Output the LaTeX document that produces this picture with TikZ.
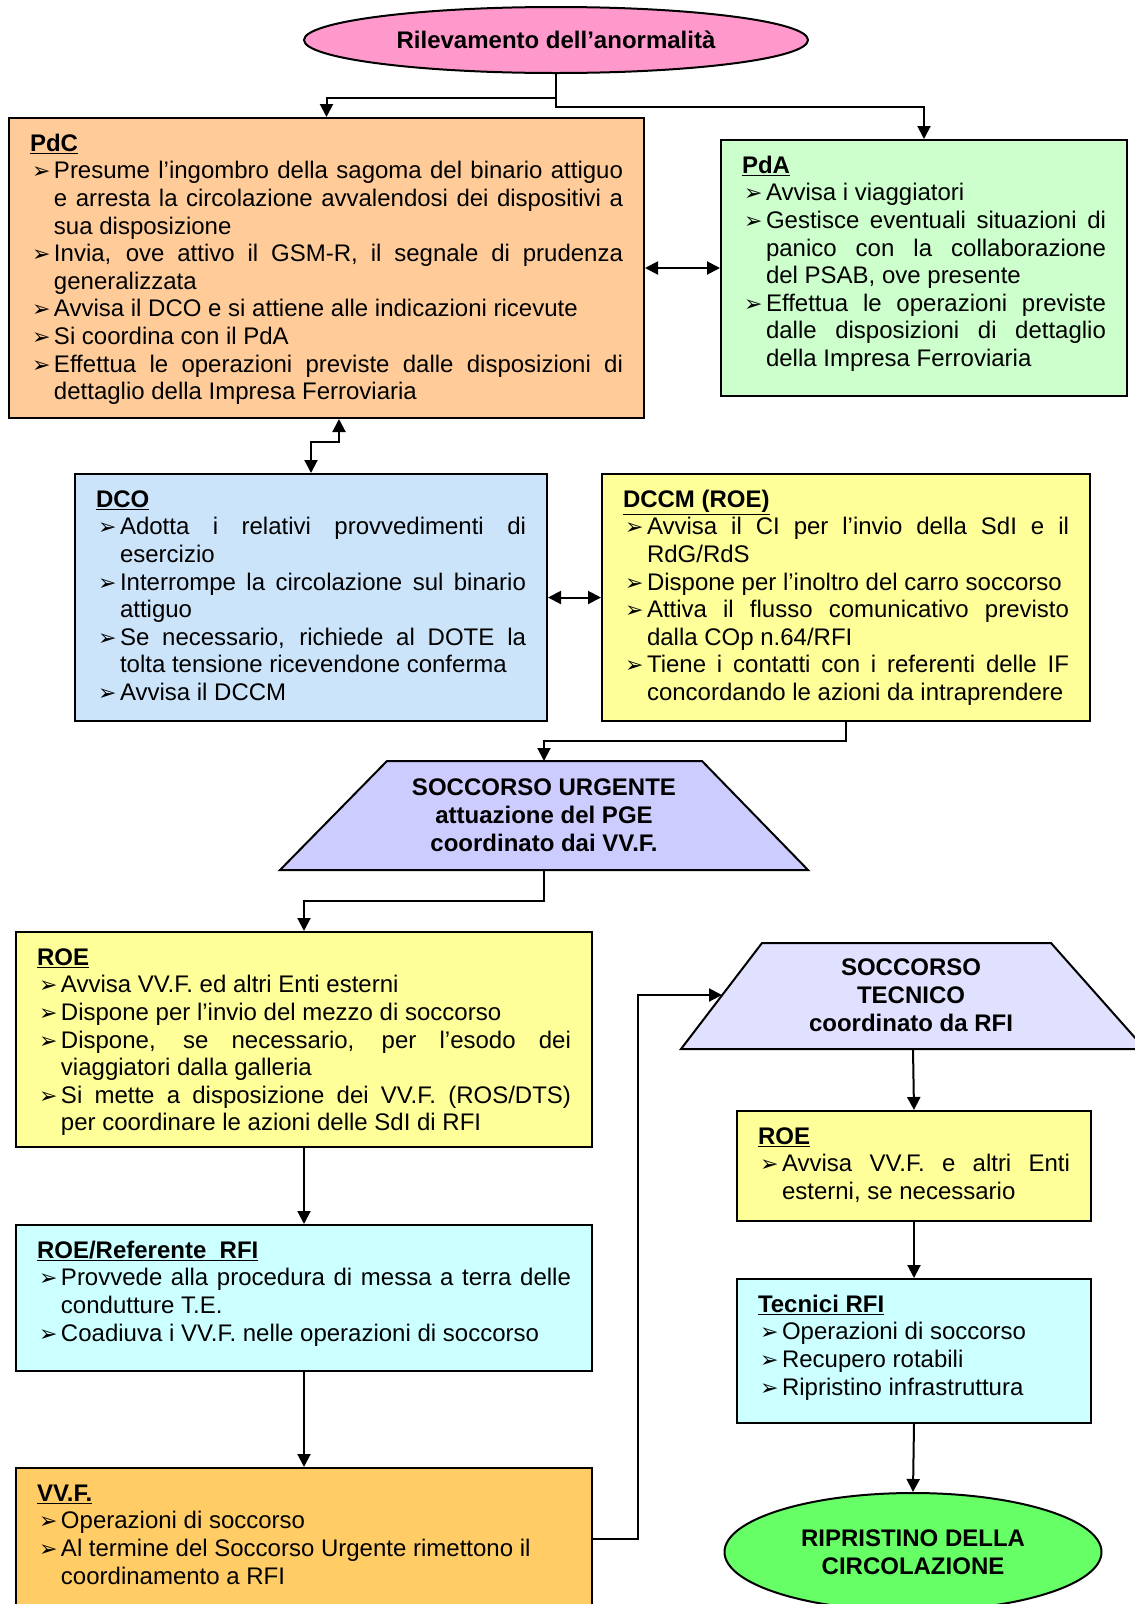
\documentclass[tikz,border=0pt]{standalone}
\usepackage{fontspec}
\setmainfont{Liberation Sans}
\newfontfamily\dejavu{DejaVu Sans}
\usetikzlibrary{arrows.meta,shapes.geometric}
\hyphenpenalty=10000 \exhyphenpenalty=10000 \emergencystretch=20pt
\definecolor{cpink}{HTML}{FF99CC} \definecolor{cpeach}{HTML}{FFCC99}
\definecolor{cmint}{HTML}{CCFFCC} \definecolor{csky}{HTML}{CCE4FA}
\definecolor{clemon}{HTML}{FFFF99} \definecolor{clilac}{HTML}{CCCCFF}
\definecolor{caqua}{HTML}{CCFFFF} \definecolor{corange}{HTML}{FFCC66}
\definecolor{clav}{HTML}{E0E0FF} \definecolor{cgreen}{HTML}{66FF66}
\newcommand{\bul}{\hspace{2pt}{\dejavu\fontsize{22}{22}\selectfont ➢}}
\newcommand{\itm}[1]{\par\hangindent=24pt\hangafter=1\noindent\makebox[24pt][l]{\bul}#1}
\newcommand{\ttl}[1]{\strut\textbf{\underline{#1}}}
\newcommand{\panel}[3]{\parbox[t][#1][t]{#2}{#3}}
\begin{document}
\begin{tikzpicture}[x=1pt, y=-1pt,
    every node/.style={font=\fontsize{24}{27.6}\selectfont},
    box/.style={draw, line width=2pt, anchor=north west, inner xsep=21pt, inner ysep=14pt},
    oval/.style={draw, line width=2pt, ellipse, inner sep=0pt, align=center, font=\fontsize{24}{28}\selectfont\bfseries},
    trap/.style={draw, line width=2pt, line join=miter},
    traptext/.style={align=center, font=\fontsize{24}{28}\selectfont\bfseries},
    arr/.style={line width=2pt, -{Triangle[length=13pt,width=13pt]}},
    darr/.style={line width=2pt, {Triangle[length=13pt,width=13pt]}-{Triangle[length=13pt,width=13pt]}}]
\useasboundingbox (0,0) rectangle (1135,1604);
\clip (0,0) rectangle (1135,1604);
%coordinate
    \coordinate (su-n) at (544,761); \coordinate (su-s) at (544,870);
    \coordinate (st-w) at (722,995); \coordinate (st-s) at (913,1049);
%start
    \node[oval, fill=cpink, minimum width=504, minimum height=66] (start) at (556,40) {Rilevamento dell’anormalità};
%boxes
    \node[box, fill=cpeach] (pdc) at (8,117) {\panel{272pt}{593pt}{\ttl{PdC}
        \itm{Presume l’ingombro della sagoma del binario attiguo\linebreak e arresta la circolazione avvalendosi dei dispositivi a\linebreak sua disposizione}
        \itm{Invia, ove attivo il GSM-R, il segnale di prudenza\linebreak generalizzata}
        \itm{Avvisa il DCO e si attiene alle indicazioni ricevute}
        \itm{Si coordina con il PdA}
        \itm{Effettua le operazioni previste dalle disposizioni di\linebreak dettaglio della Impresa Ferroviaria}}};
    \node[box, fill=cmint] (pda) at (720,139) {\panel{228pt}{364pt}{\ttl{PdA}
        \itm{Avvisa i viaggiatori}
        \itm{Gestisce eventuali situazioni di\linebreak panico con la collaborazione\linebreak del PSAB, ove presente}
        \itm{Effettua le operazioni previste\linebreak dalle disposizioni di dettaglio\linebreak della Impresa Ferroviaria}}};
    \node[box, fill=csky] (dco) at (74,473) {\panel{219pt}{430pt}{\ttl{DCO}
        \itm{Adotta i relativi provvedimenti di\linebreak esercizio}
        \itm{Interrompe la circolazione sul binario\linebreak attiguo}
        \itm{Se necessario, richiede al DOTE la\linebreak tolta tensione ricevendone conferma}
        \itm{Avvisa il DCCM}}};
    \node[box, fill=clemon] (dccm) at (601,473) {\panel{219pt}{446pt}{\ttl{DCCM (ROE)}
        \itm{Avvisa il CI per l’invio della SdI e il\linebreak RdG/RdS}
        \itm{Dispone per l’inoltro del carro soccorso}
        \itm{Attiva il flusso comunicativo previsto\linebreak dalla COp n.64/RFI}
        \itm{Tiene i contatti con i referenti delle IF\linebreak concordando le azioni da intraprendere}}};
%soccorso urgente
    \filldraw[trap, fill=clilac] (387,761) -- (702,761) -- (808,870) -- (280,870) -- cycle;
    \node[traptext] (su) at (544,815.5) {SOCCORSO URGENTE\\attuazione del PGE\\coordinato dai VV.F.};
    \node[box, fill=clemon] (roe) at (15,931) {\panel{187pt}{534pt}{\ttl{ROE}
        \itm{Avvisa VV.F. ed altri Enti esterni}
        \itm{Dispone per l’invio del mezzo di soccorso}
        \itm{Dispone, se necessario, per l’esodo dei\linebreak viaggiatori dalla galleria}
        \itm{Si mette a disposizione dei VV.F. (ROS/DTS)\linebreak per coordinare le azioni delle SdI di RFI}}};
    \node[box, fill=caqua] (ref) at (15,1224) {\panel{118pt}{534pt}{\ttl{ROE/Referente\ \ RFI}
        \itm{Provvede alla procedura di messa a terra delle\linebreak condutture T.E.}
        \itm{Coadiuva i VV.F. nelle operazioni di soccorso}}};
    \node[box, fill=corange] (vvf) at (15,1467) {\panel{120pt}{534pt}{\ttl{VV.F.}
        \itm{Operazioni di soccorso}
        \itm{Al termine del Soccorso Urgente rimettono il\newline coordinamento a RFI}}};
%soccorso tecnico
    \filldraw[trap, fill=clav] (762,943) -- (1051,943) -- (1145,1049) -- (681,1049) -- cycle;
    \node[traptext] (st) at (911,995) {SOCCORSO\\TECNICO\\coordinato da RFI};
    \node[box, fill=clemon] (roe2) at (736,1110) {\panel{82pt}{312pt}{\ttl{ROE}
        \itm{Avvisa VV.F. e altri Enti\linebreak esterni, se necessario}}};
    \node[box, fill=caqua] (tec) at (736,1278) {\panel{116pt}{312pt}{\ttl{Tecnici RFI}
        \itm{Operazioni di soccorso}
        \itm{Recupero rotabili}
        \itm{Ripristino infrastruttura}}};
    \node[oval, fill=cgreen, minimum width=377, minimum height=118] (stop) at (913,1552) {RIPRISTINO DELLA\\CIRCOLAZIONE};
%arrows
    \draw[arr] (start.south) -- ++(0,24) -| (pdc.north);
    \draw[arr] (start.south) -- ++(0,33) -| (pda.north);
    \draw[darr] (pda.west -| pdc.east) -- (pda.west);
    \draw[darr] (dco.north) -- ++(0,-31) -| ([xshift=12.5pt]pdc.south);
    \draw[darr] (dco.east) -- (dccm.west);
    \draw[arr] (dccm.south) -- ++(0,19) -| (su-n);
    \draw[arr] (su-s) -- ++(0,31) -| (roe.north);
    \draw[arr] (roe.south) -- (ref.north);
    \draw[arr] (ref.south) -- (vvf.north);
    \draw[arr] ([yshift=-72pt]vvf.north east) -- ++(45,0) |- (st-w);
    \draw[arr] (st-s) -- (roe2.north);
    \draw[arr] (roe2.south) -- (tec.north);
    \draw[arr] (tec.south) -- (stop.north);
\end{tikzpicture}
\end{document}
